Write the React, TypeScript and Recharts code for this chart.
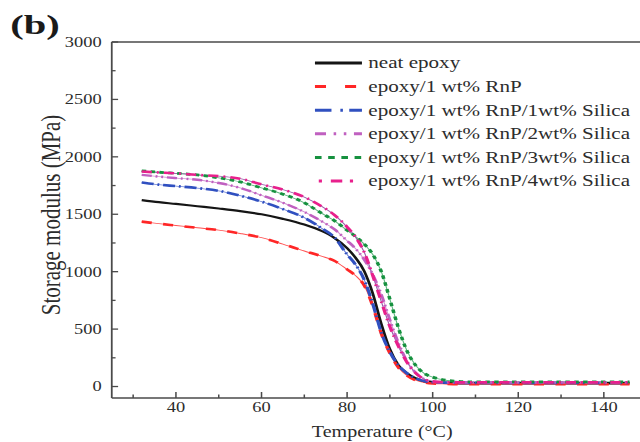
import React from 'react';
import { LineChart, Line, XAxis, YAxis, ReferenceLine } from 'recharts';

// ---------- data ----------
const temperature = [32, 36, 40, 45, 50, 55, 60, 65, 70, 74, 77, 80, 82, 84, 86, 88, 90, 92, 94, 96, 98, 100, 103, 106, 110, 120, 130, 140, 146];
const neatEpoxy = [1623, 1605, 1590, 1570, 1550, 1528, 1500, 1460, 1410, 1355, 1295, 1205, 1120, 1005, 810, 545, 325, 185, 115, 72, 47, 37, 32, 30, 30, 30, 30, 30, 30];
const rnp1 = [1436, 1418, 1402, 1382, 1362, 1333, 1296, 1240, 1180, 1135, 1095, 1020, 965, 880, 700, 460, 290, 165, 95, 55, 35, 26, 22, 20, 20, 20, 20, 20, 20];
const silica1 = [1776, 1758, 1745, 1728, 1704, 1662, 1610, 1545, 1470, 1380, 1300, 1150, 1060, 930, 720, 470, 300, 185, 115, 72, 48, 38, 34, 32, 32, 32, 32, 32, 32];
const silica2 = [1843, 1828, 1815, 1800, 1772, 1730, 1665, 1600, 1520, 1440, 1370, 1270, 1200, 1105, 975, 800, 580, 380, 220, 120, 65, 42, 36, 35, 35, 35, 35, 35, 35];
const silica3 = [1878, 1866, 1856, 1843, 1817, 1782, 1730, 1675, 1600, 1510, 1445, 1360, 1305, 1240, 1150, 1000, 760, 510, 310, 185, 115, 82, 55, 45, 40, 40, 40, 40, 40];
const silica4 = [1872, 1864, 1856, 1843, 1832, 1810, 1760, 1715, 1650, 1570, 1495, 1390, 1300, 1170, 965, 740, 521, 350, 210, 118, 65, 45, 38, 36, 36, 36, 36, 36, 36];

const seriesNames = [
  'neat epoxy',
  'epoxy/1 wt% RnP',
  'epoxy/1 wt% RnP/1wt% Silica',
  'epoxy/1 wt% RnP/2wt% Silica',
  'epoxy/1 wt% RnP/3wt% Silica',
  'epoxy/1 wt% RnP/4wt% Silica',
];
const seriesValues = [neatEpoxy, rnp1, silica1, silica2, silica3, silica4];

const xTicks = [30, 40, 50, 60, 70, 80, 90, 100, 110, 120, 130, 140, 150];
const xLabelTicks = [40, 60, 80, 100, 120, 140];
const yTicks = [0, 250, 500, 750, 1000, 1250, 1500, 1750, 2000, 2250, 2500, 2750, 3000];
const yLabelTicks = [0, 500, 1000, 1500, 2000, 2500, 3000];

const xTitle = 'Temperature (°C)';
const yTitle = 'Storage modulus (MPa)';
const panelLabel = '(b)';

// ---------- styles ----------
const FONT = "'Liberation Serif', 'Times New Roman', serif";
const SX = 1.27; // horizontal stretch of the reference figure
const PLOT_LEFT = 88;
const PLOT_BOTTOM = 398;
const AXIS_COLOR = '#4a4a4a';
const TEXT_COLOR = '#2c2c2c';

const seriesStyle = [
  { color: '#151515', dash: undefined as string | undefined, width: 2.2, under: undefined as string | undefined, legendDash: undefined as string | undefined, legendOffset: 0 },
  { color: '#ff2626', dash: '8 9', width: 2.6, under: '#ff5050', legendDash: '8.7 15', legendOffset: 0 },
  { color: '#3050c0', dash: '9.5 3 1.5 3', width: 2.6, under: '#6a80d8', legendDash: '13 7 2 5', legendOffset: 0 },
  { color: '#c060c0', dash: '8 3 1.5 3 1.5 3', width: 2.4, under: '#d090d0', legendDash: '8.7 6 2 6 2 6', legendOffset: 0 },
  { color: '#16913f', dash: '3.5 3.5', width: 2.8, under: '#60b880', legendDash: '5.2 5.2', legendOffset: 0 },
  { color: '#e8208c', dash: '8 4 1.5 4', width: 2.6, under: '#9a5aa8', legendDash: '9 6 2.5 7', legendOffset: 12 },
];

const data = temperature.map((t, i) => {
  const row: Record<string, number> = { T: t };
  seriesValues.forEach((vals, k) => {
    row['s' + k] = vals[i];
  });
  return row;
});

// ---------- ticks ----------
const XTick = (props: any) => {
  const { payload } = props;
  const x = payload.coordinate ?? props.x;
  const v = payload.value;
  const major = xLabelTicks.includes(v);
  return (
    <g>
      <line x1={x} x2={x} y1={PLOT_BOTTOM} y2={PLOT_BOTTOM - (major ? 6 : 3.5)} stroke={AXIS_COLOR} strokeWidth={1.2} />
      {major && (
        <text x={x} y={412} textAnchor="middle" fontFamily={FONT} fontSize={14.5} fill={TEXT_COLOR}>
          {v}
        </text>
      )}
    </g>
  );
};

const YTick = (props: any) => {
  const { payload } = props;
  const y = payload.coordinate ?? props.y;
  const v = payload.value;
  const major = yLabelTicks.includes(v);
  return (
    <g>
      <line x1={PLOT_LEFT} x2={PLOT_LEFT + (major ? 5 : 3)} y1={y} y2={y} stroke={AXIS_COLOR} strokeWidth={1.3} />
      {major && (
        <text x={PLOT_LEFT - 8} y={y} dy="0.34em" textAnchor="end" fontFamily={FONT} fontSize={14.5} fill={TEXT_COLOR}>
          {v}
        </text>
      )}
    </g>
  );
};

// ---------- overlay: titles + legend ----------
const Overlay = () => {
  const legendX1 = 248;
  const legendX2 = 285;
  const legendTextX = 290;
  const legendY0 = 63;
  const legendStep = 23.6;
  return (
    <svg width={526} height={442} style={{ position: 'absolute', left: 0, top: 0, pointerEvents: 'none' }}>
      <text x={8} y={34} fontFamily={FONT} fontWeight="bold" fontSize={28} fill="#1a1a1a" textLength={39} lengthAdjust="spacingAndGlyphs">
        {panelLabel}
      </text>
      <text
        x={40}
        y={215}
        transform="rotate(-90, 40, 215)"
        textAnchor="middle"
        dy="0.34em"
        fontFamily={FONT}
        fontSize={21}
        fill={TEXT_COLOR}
      >
        {yTitle}
      </text>
      <text x={301} y={437} textAnchor="middle" fontFamily={FONT} fontSize={15.8} fill={TEXT_COLOR}>
        {xTitle}
      </text>
      {seriesNames.map((name, i) => {
        const y = legendY0 + i * legendStep;
        const st = seriesStyle[i];
        return (
          <g key={name}>
            <line
              x1={legendX1}
              x2={legendX2}
              y1={y}
              y2={y}
              stroke={st.color}
              strokeWidth={3}
              strokeDasharray={st.legendDash}
              strokeDashoffset={st.legendOffset}
            />
            <text x={legendTextX} y={y + 5.5} fontFamily={FONT} fontSize={16.6} fill={TEXT_COLOR}>
              {name}
            </text>
          </g>
        );
      })}
    </svg>
  );
};

export default function App() {
  return (
    <div style={{ position: 'absolute', left: 0, top: 0, width: 640, height: 442, overflow: 'hidden', background: '#fff' }}>
      <div style={{ position: 'relative', width: 526, height: 442, transform: `scaleX(${SX})`, transformOrigin: '0 0' }}>
        <LineChart width={526} height={442} data={data} margin={{ top: 42, right: 0, bottom: 14, left: 0 }}>
          <XAxis
            type="number"
            dataKey="T"
            domain={[25, 155]}
            ticks={xTicks}
            interval={0}
            allowDataOverflow
            height={30}
            tickLine={false}
            axisLine={{ stroke: AXIS_COLOR, strokeWidth: 1.4 }}
            tick={XTick}
          />
          <YAxis
            type="number"
            domain={[-100, 3000]}
            ticks={yTicks}
            interval={0}
            allowDataOverflow
            width={88}
            tickLine={false}
            axisLine={{ stroke: AXIS_COLOR, strokeWidth: 1.4 }}
            tick={YTick}
          />
          <ReferenceLine y={3000} stroke={AXIS_COLOR} strokeWidth={1.4} ifOverflow="visible" />
          {seriesStyle.map((st, k) =>
            st.under ? (
              <Line
                key={'u' + k}
                type="monotone"
                dataKey={'s' + k}
                stroke={st.under}
                strokeWidth={0.9}
                dot={false}
                activeDot={false}
                isAnimationActive={false}
                legendType="none"
              />
            ) : null
          )}
          {seriesStyle.map((st, k) => (
            <Line
              key={'s' + k}
              type="monotone"
              dataKey={'s' + k}
              name={seriesNames[k]}
              stroke={st.color}
              strokeWidth={st.width}
              strokeDasharray={st.dash}
              dot={false}
              activeDot={false}
              isAnimationActive={false}
            />
          ))}
        </LineChart>
        <Overlay />
      </div>
    </div>
  );
}
